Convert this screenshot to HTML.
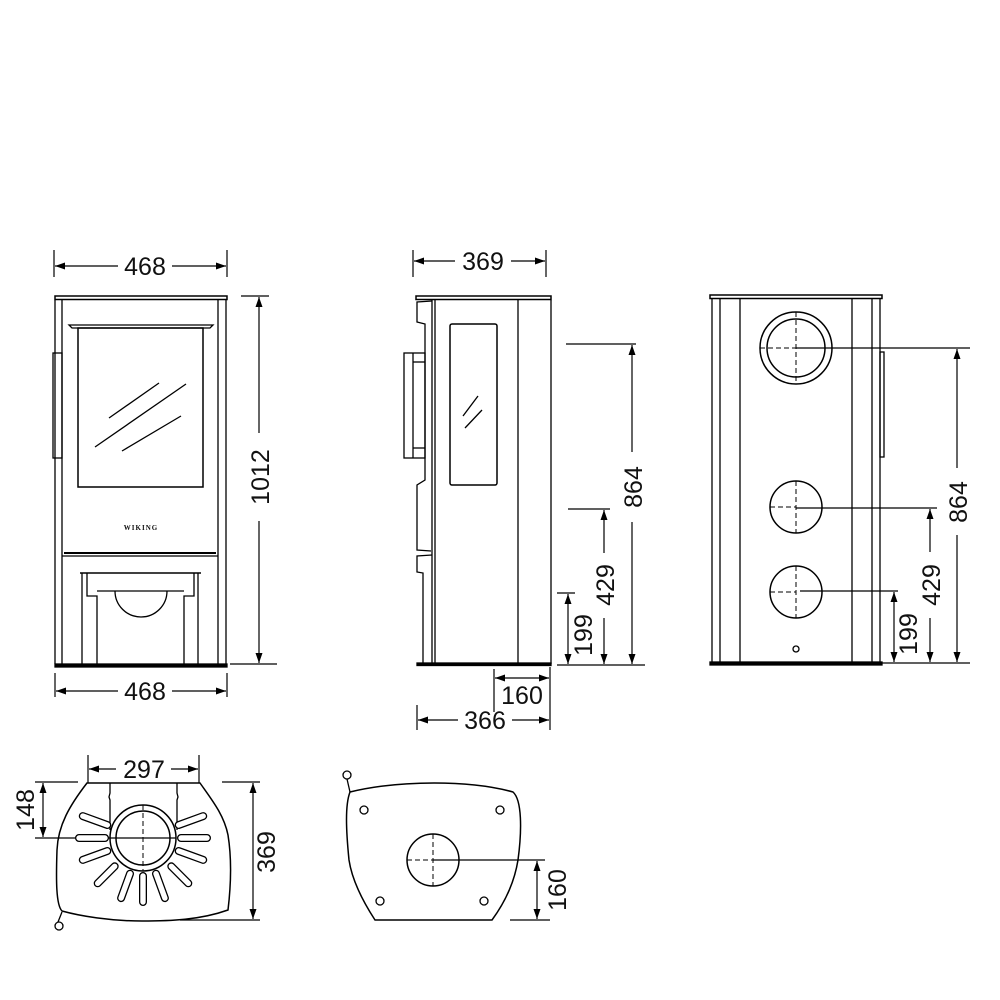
<!DOCTYPE html>
<html><head><meta charset="utf-8"><style>
html,body{margin:0;padding:0;background:#fff;}
svg{display:block;}
text{font-family:"Liberation Sans",Arial,sans-serif;font-size:25px;fill:#111;}
</style></head><body>
<svg width="1000" height="1000" viewBox="0 0 1000 1000" xmlns="http://www.w3.org/2000/svg">
<defs>
<marker id="a" viewBox="0 0 10 10" refX="10" refY="5" markerWidth="10" markerHeight="10" markerUnits="userSpaceOnUse" orient="auto-start-reverse"><path d="M0,1.5 L10,5 L0,8.5 Z" fill="#000"/></marker>
</defs>
<g fill="none" stroke="#000" stroke-width="1.3">
<rect x="55" y="296" width="172" height="3.5" stroke-width="1.5"/>
<line x1="55" y1="300" x2="55" y2="664"/><line x1="226" y1="300" x2="226" y2="664"/>
<line x1="62" y1="300" x2="62" y2="664"/><line x1="218" y1="300" x2="218" y2="664"/>
<path d="M69,325 L213,325 L210,328 L72,328 Z"/>
<rect x="78" y="328" width="125" height="159" stroke-width="1.5"/>
<line x1="109" y1="418" x2="159" y2="383"/><line x1="95" y1="447" x2="186" y2="384"/><line x1="122" y1="451" x2="181" y2="416"/>
<rect x="53" y="353" width="9" height="105"/>
<line x1="64" y1="553" x2="216" y2="553" stroke-width="2"/>
<line x1="62" y1="556" x2="218" y2="556"/>
<line x1="80" y1="573" x2="201" y2="573" stroke-width="1.6"/>
<line x1="82" y1="573" x2="82" y2="664"/><line x1="198" y1="573" x2="198" y2="664"/>
<path d="M87,573 L87,596 L97,596 L97,664 M194,573 L194,596 L184,596 L184,664 M97,591 L184,591"/>
<path d="M115,591 A26,26 0 0 0 167,591"/>
<rect x="55" y="664" width="172" height="3" fill="#000"/>
<rect x="416" y="296" width="135" height="3.5" stroke-width="1.5"/>
<line x1="551" y1="300" x2="551" y2="664"/>
<line x1="518" y1="300" x2="518" y2="664"/>
<line x1="435" y1="300" x2="435" y2="664"/>
<line x1="432" y1="300" x2="432" y2="664"/>
<path d="M432,301 L417,302 L417,322 L425,324 L425,480 L417,485 L417,550 L431,551"/>
<path d="M432,555 L417,556 L417,572 L423,573 L423,664"/>
<rect x="404" y="353" width="21" height="105"/>
<line x1="413" y1="353" x2="413" y2="458"/>
<line x1="413" y1="362" x2="425" y2="362"/><line x1="413" y1="448" x2="425" y2="448"/>
<rect x="450" y="324" width="47" height="161" rx="2" stroke-width="1.5"/>
<line x1="463" y1="416" x2="478" y2="396"/><line x1="465" y1="428" x2="482" y2="410"/>
<rect x="417" y="663" width="134" height="2.5" fill="#000"/>
<rect x="710" y="295" width="172" height="3.5" stroke-width="1.5"/>
<line x1="712" y1="299" x2="712" y2="663"/><line x1="720" y1="299" x2="720" y2="663"/>
<line x1="740" y1="299" x2="740" y2="663"/><line x1="852" y1="299" x2="852" y2="663"/>
<line x1="872" y1="299" x2="872" y2="663"/><line x1="880" y1="299" x2="880" y2="663"/>
<rect x="880" y="352" width="4" height="105"/>
<rect x="710" y="662" width="172" height="3" fill="#000"/>
<circle cx="796" cy="348" r="36" stroke-width="1.5"/><circle cx="796" cy="348" r="29" stroke-width="1.5"/>
<circle cx="796" cy="507" r="26" stroke-width="1.5"/>
<circle cx="796" cy="592" r="26" stroke-width="1.5"/>
<circle cx="796" cy="649" r="3"/>
<g stroke-dasharray="5,3" stroke-width="1">
<line x1="760" y1="348" x2="796" y2="348"/><line x1="796" y1="312" x2="796" y2="384"/>
<line x1="770" y1="507" x2="796" y2="507"/><line x1="796" y1="481" x2="796" y2="533"/>
<line x1="770" y1="592" x2="796" y2="592"/><line x1="796" y1="566" x2="796" y2="618"/>
</g>
<path d="M87,783 L200,783 C212,800 224,815 228,835 C232,860 231,885 228,910 C200,920 170,921 142,921 C110,921 80,916 62,911 C56,905 56,880 57,850 C58,825 70,805 87,783 Z" stroke-width="1.5"/>
<path d="M110,783 L110,793 L109,797 L110,800 L110,830 M177,783 L177,793 L178,797 L177,800 L177,830"/>
<circle cx="143" cy="838" r="33" stroke-width="1.5"/><circle cx="143" cy="838" r="27" stroke-width="1.5"/>
<line x1="143" y1="805" x2="143" y2="871" stroke-dasharray="5,3" stroke-width="1"/>
<line x1="35" y1="838" x2="176" y2="838"/>
<path d="M62,912 L58,922"/><circle cx="59" cy="926" r="4"/>
<path d="M350,792 C400,780 470,780 513,792 C522,800 522,830 518,860 C514,885 503,905 492,920 L375,920 C362,900 352,880 349,860 C346,830 345,805 350,792 Z" stroke-width="1.5"/>
<circle cx="364" cy="810" r="4"/><circle cx="500" cy="810" r="4"/><circle cx="380" cy="901" r="4"/><circle cx="484" cy="901" r="4"/>
<circle cx="433" cy="860" r="26" stroke-width="1.5"/>
<g stroke-dasharray="5,3" stroke-width="1"><line x1="407" y1="860" x2="433" y2="860"/><line x1="433" y1="834" x2="433" y2="886"/></g>
<path d="M350,792 L347,779"/><circle cx="347" cy="775" r="4"/>
</g>
<g stroke-linecap="round" fill="none">
<g stroke="#000" stroke-width="8">
<path id="slots" d="M178.7,825.0 L203.2,816.1 M181,838 L207,838 M178.7,851.0 L203.2,859.9 M171.3,866.3 L188.3,883.3 M156.0,873.7 L164.9,898.1 M143,876 L143,902 M130.0,873.7 L121.1,898.1 M114.7,866.3 L97.7,883.3 M107.3,851.0 L82.8,859.9 M105,838 L79,838 M107.3,825.0 L82.8,816.1"/>
</g>
<use href="#slots" stroke="#fff" stroke-width="5.4"/>
</g>
<g stroke="#000" stroke-width="1.2" fill="none">
<line x1="54" y1="250" x2="54" y2="277"/><line x1="227" y1="250" x2="227" y2="277"/>
<line x1="55" y1="266" x2="118" y2="266" marker-start="url(#a)"/><line x1="172" y1="266" x2="226" y2="266" marker-end="url(#a)"/>
<line x1="241" y1="296" x2="269" y2="296"/><line x1="230" y1="664" x2="277" y2="664"/>
<line x1="259" y1="297" x2="259" y2="433" marker-start="url(#a)"/><line x1="259" y1="521" x2="259" y2="663" marker-end="url(#a)"/>
<line x1="55" y1="673" x2="55" y2="697"/><line x1="227" y1="673" x2="227" y2="697"/>
<line x1="56" y1="691" x2="118" y2="691" marker-start="url(#a)"/><line x1="172" y1="691" x2="226" y2="691" marker-end="url(#a)"/>
<line x1="413" y1="250" x2="413" y2="277"/><line x1="546" y1="250" x2="546" y2="277"/>
<line x1="414" y1="261" x2="455" y2="261" marker-start="url(#a)"/><line x1="511" y1="261" x2="545" y2="261" marker-end="url(#a)"/>
<line x1="566" y1="344" x2="636" y2="344"/><line x1="568" y1="509" x2="610" y2="509"/><line x1="557" y1="593" x2="575" y2="593"/>
<line x1="557" y1="665" x2="645" y2="665"/>
<line x1="632" y1="345" x2="632" y2="452" marker-start="url(#a)"/><line x1="632" y1="522" x2="632" y2="664" marker-end="url(#a)"/>
<line x1="604" y1="510" x2="604" y2="553" marker-start="url(#a)"/><line x1="604" y1="618" x2="604" y2="664" marker-end="url(#a)"/>
<line x1="568" y1="594" x2="568" y2="664" marker-start="url(#a)" marker-end="url(#a)"/>
<line x1="494" y1="669" x2="494" y2="712"/><line x1="550" y1="667" x2="550" y2="730"/><line x1="417" y1="705" x2="417" y2="730"/>
<line x1="495" y1="678" x2="549" y2="678" marker-start="url(#a)" marker-end="url(#a)"/>
<line x1="418" y1="720" x2="458" y2="720" marker-start="url(#a)"/><line x1="512" y1="720" x2="549" y2="720" marker-end="url(#a)"/>
<line x1="796" y1="348" x2="970" y2="348"/><line x1="796" y1="508" x2="937" y2="508"/><line x1="800" y1="591" x2="898" y2="591"/>
<line x1="880" y1="663" x2="970" y2="663"/>
<line x1="957" y1="349" x2="957" y2="468" marker-start="url(#a)"/><line x1="957" y1="535" x2="957" y2="662" marker-end="url(#a)"/>
<line x1="930" y1="509" x2="930" y2="552" marker-start="url(#a)"/><line x1="930" y1="618" x2="930" y2="662" marker-end="url(#a)"/>
<line x1="894" y1="592" x2="894" y2="662" marker-start="url(#a)" marker-end="url(#a)"/>
<line x1="88" y1="755" x2="88" y2="783"/><line x1="199" y1="755" x2="199" y2="783"/>
<line x1="89" y1="769" x2="116" y2="769" marker-start="url(#a)"/><line x1="171" y1="769" x2="198" y2="769" marker-end="url(#a)"/>
<line x1="35" y1="782" x2="78" y2="782"/>
<line x1="43" y1="783" x2="43" y2="837" marker-start="url(#a)" marker-end="url(#a)"/>
<line x1="222" y1="782" x2="260" y2="782"/><line x1="180" y1="920" x2="260" y2="920"/>
<line x1="253" y1="783" x2="253" y2="919" marker-start="url(#a)" marker-end="url(#a)"/>
<line x1="433" y1="860" x2="545" y2="860"/><line x1="510" y1="920" x2="550" y2="920"/>
<line x1="537" y1="861" x2="537" y2="919" marker-start="url(#a)" marker-end="url(#a)"/>
</g>
<g>
<text x="145" y="275" text-anchor="middle">468</text>
<text x="145" y="700" text-anchor="middle">468</text>
<text transform="translate(269,477) rotate(-90)" text-anchor="middle">1012</text>
<text x="483" y="270" text-anchor="middle">369</text>
<text transform="translate(642,487) rotate(-90)" text-anchor="middle">864</text>
<text transform="translate(614,585) rotate(-90)" text-anchor="middle">429</text>
<text transform="translate(592,635) rotate(-90)" text-anchor="middle">199</text>
<text x="522" y="704" text-anchor="middle">160</text>
<text x="485" y="729" text-anchor="middle">366</text>
<text transform="translate(967,502) rotate(-90)" text-anchor="middle">864</text>
<text transform="translate(940,585) rotate(-90)" text-anchor="middle">429</text>
<text transform="translate(917,634) rotate(-90)" text-anchor="middle">199</text>
<text x="144" y="778" text-anchor="middle">297</text>
<text transform="translate(34,810) rotate(-90)" text-anchor="middle">148</text>
<text transform="translate(275,852) rotate(-90)" text-anchor="middle">369</text>
<text transform="translate(566,890) rotate(-90)" text-anchor="middle">160</text>
<text x="141" y="530" text-anchor="middle" style="font-size:7px;font-family:'Liberation Serif',serif;letter-spacing:1px;font-weight:bold">WIKING</text>
</g>
</svg>
</body></html>
